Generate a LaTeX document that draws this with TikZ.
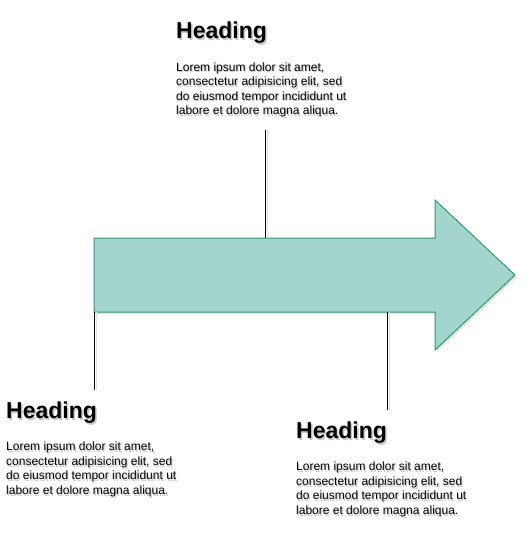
\documentclass[tikz,border=0pt]{standalone}
\usepackage{fontspec}
\setmainfont{Liberation Sans}
\definecolor{arrowfill}{RGB}{163,213,206}
\definecolor{arrowdraw}{RGB}{52,150,110}
\begin{document}
\begin{tikzpicture}[x=1pt,y=-1pt,
  heading/.style={font=\fontsize{23}{27}\selectfont\bfseries, anchor=base west, inner sep=0},
  body/.style={font=\fontsize{12}{14.5}\selectfont, align=left, anchor=north west, inner sep=0},
  shade/.style={text=black!22},
  leader/.style={draw=black, line width=0.9pt},
  leadershade/.style={draw=black!12, line width=1pt},
  arrowbody/.style={draw=arrowdraw, fill=arrowfill, line width=1pt, line join=miter},
]
\useasboundingbox (0,0) rectangle (526,542);

% arrow shadow and arrow
\fill[black!10] (96,240) -- (437,240) -- (437,202) -- (517,277) -- (437,352) -- (437,314) -- (96,314) -- cycle;
\path[arrowbody] (94,238) -- (435,238) -- (435,200) -- (515,275) -- (435,350) -- (435,312) -- (94,312) -- cycle;
\coordinate (a1) at (265,238);
\coordinate (a2) at (94,312);
\coordinate (a3) at (387,312);
\coordinate (e1) at (265,130);
\coordinate (e2) at (94,390);
\coordinate (e3) at (387,410);

\draw[leadershade] ([xshift=2pt]e1) -- ([xshift=2pt]a1);
\draw[leadershade] ([xshift=2pt]a2) -- ([xshift=2pt]e2);
\draw[leadershade] ([xshift=2pt]a3) -- ([xshift=2pt]e3);
\draw[leader] (e1) -- (a1);
\draw[leader] (a2) -- (e2);
\draw[leader] (a3) -- (e3);

% text blocks
\newcommand{\bodytext}{Lorem ipsum dolor sit amet,\\consectetur adipisicing elit, sed\\do eiusmod tempor incididunt ut\\labore et dolore magna aliqua.}

\node[heading, shade] (h1s) at (177.5,40.5) {Heading};
\node[heading] (h1) at (176,38) {Heading};
\node[body, shade] (b1s) at (177,64) {\bodytext};
\node[body] (b1) at (176,62.4) {\bodytext};

\node[heading, shade] (h2s) at (7.5,420.5) {Heading};
\node[heading] (h2) at (6,418) {Heading};
\node[body, shade] (b2s) at (7,443.6) {\bodytext};
\node[body] (b2) at (6,442) {\bodytext};

\node[heading, shade] (h3s) at (297.5,440.5) {Heading};
\node[heading] (h3) at (296,438) {Heading};
\node[body, shade] (b3s) at (297,463.6) {\bodytext};
\node[body] (b3) at (296,462) {\bodytext};
\end{tikzpicture}
\end{document}
